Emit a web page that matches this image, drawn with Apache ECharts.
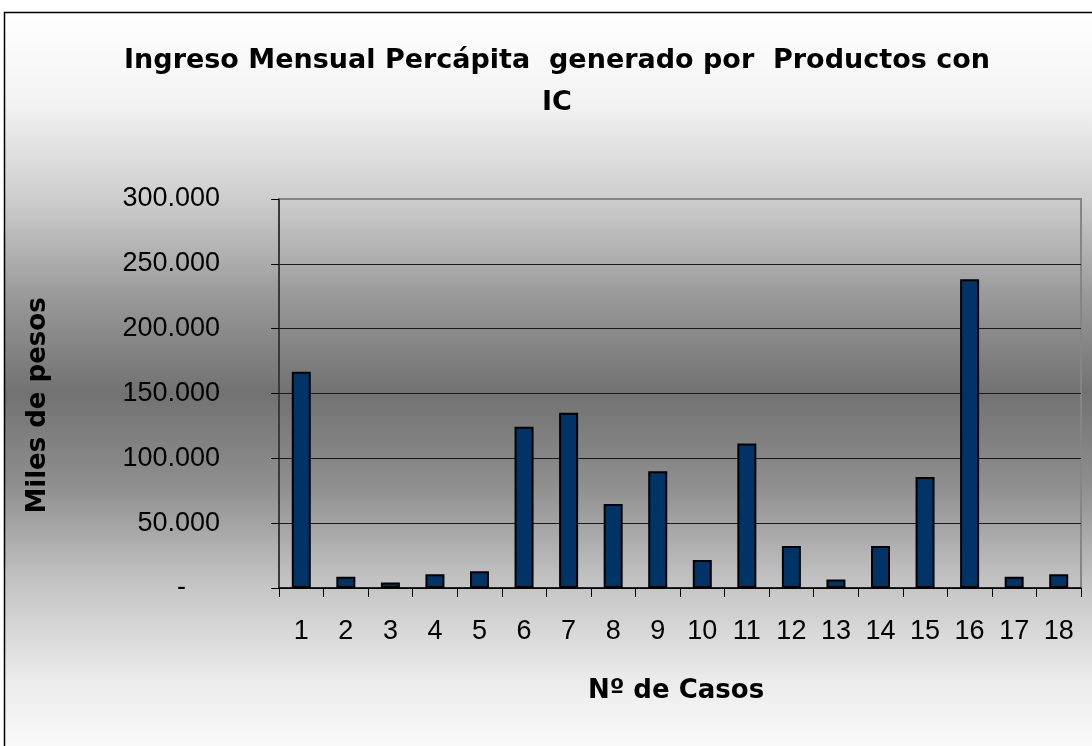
<!DOCTYPE html>
<html>
<head>
<meta charset="utf-8">
<title>Ingreso Mensual Percápita</title>
<script src="https://cdn.jsdelivr.net/npm/echarts@6/dist/echarts.min.js"></script>
<style>
  html, body { margin: 0; padding: 0; background: #fff; }
  #chart { width: 1092px; height: 746px; }
</style>
</head>
<body>
<div id="chart"></div>
<script>
// datos
var casos = ['1', '2', '3', '4', '5', '6', '7', '8', '9', '10', '11', '12', '13', '14', '15', '16', '17', '18'];
var ingresos = [166800, 8600, 4300, 10700, 13000, 124300, 135100, 64700, 90100, 21500, 111500, 32300, 6600, 32300, 85700, 238200, 8600, 10700];
var ticksY = [0, 50000, 100000, 150000, 200000, 250000, 300000];

var numFont = '"Liberation Sans", Arial, sans-serif';
var boldFont = '"DejaVu Sans", sans-serif';

function formatMiles(v) {
  if (v === 0) {
    return '{z|-}';
  }
  return String(v).replace(/\B(?=(\d{3})+(?!\d))/g, '.');
}

var chart = echarts.init(document.getElementById('chart'));

var option = {
  backgroundColor: '#ffffff',
  animation: false,
  graphic: [
    {
      // marco del grafico con degradado
      type: 'rect',
      z: -10,
      silent: true,
      shape: { x: 4.5, y: 12.5, width: 1100, height: 760 },
      style: {
        fill: new echarts.graphic.LinearGradient(0, 0, 0, 1, [
          { offset: 0, color: '#ffffff' },
          { offset: 0.12, color: '#f3f3f3' },
          { offset: 0.25, color: '#cccccc' },
          { offset: 0.38, color: '#979797' },
          { offset: 0.5, color: '#727272' },
          { offset: 0.62, color: '#8e8e8e' },
          { offset: 0.75, color: '#c4c4c4' },
          { offset: 0.88, color: '#ececec' },
          { offset: 1, color: '#ffffff' }
        ]),
        stroke: '#000000',
        lineWidth: 1.5
      }
    }
  ],
  title: {
    text: 'Ingreso Mensual Percápita  generado por  Productos con\nIC',
    left: 552,
    top: 35,
    textAlign: 'center',
    textStyle: {
      fontFamily: boldFont,
      fontWeight: 'bold',
      fontSize: 27,
      lineHeight: 42,
      color: '#000'
    }
  },
  grid: {
    left: 279,
    right: 11,
    top: 199,
    bottom: 158,
    show: true,
    backgroundColor: 'transparent',
    borderColor: '#858585',
    borderWidth: 2
  },
  xAxis: {
    type: 'category',
    data: casos,
    name: 'Nº de Casos',
    nameLocation: 'middle',
    nameGap: 90,
    nameTextStyle: {
      fontFamily: boldFont,
      fontWeight: 'bold',
      fontSize: 26,
      color: '#000',
      padding: [0, 8, 0, 0]
    },
    axisLine: { lineStyle: { color: '#000', width: 1.5 } },
    axisTick: { show: true, interval: 0, length: 9, lineStyle: { color: '#000' } },
    axisLabel: {
      interval: 0,
      margin: 30,
      fontFamily: numFont,
      fontSize: 27,
      color: '#000'
    }
  },
  yAxis: {
    type: 'value',
    min: 0,
    max: 300000,
    interval: 50000,
    name: 'Miles de pesos',
    nameLocation: 'middle',
    nameRotate: 90,
    nameGap: 228,
    nameTextStyle: {
      fontFamily: boldFont,
      fontWeight: 'bold',
      fontSize: 26,
      color: '#000',
      padding: [0, 24, 0, 0]
    },
    axisLine: { show: true, lineStyle: { color: '#222', width: 1.5 } },
    axisTick: { show: true, length: 8, lineStyle: { color: '#000' } },
    axisLabel: {
      margin: 59,
      fontFamily: numFont,
      fontSize: 27,
      color: '#000',
      formatter: formatMiles,
      rich: {
        z: { fontFamily: numFont, fontSize: 27, color: '#000', padding: [0, 34, 0, 0] }
      }
    },
    splitLine: {
      show: true,
      showMaxLine: false,
      lineStyle: { color: '#1a1a1a', width: 1 }
    }
  },
  series: [
    {
      name: 'Ingreso',
      type: 'bar',
      data: ingresos,
      barWidth: 19,
      itemStyle: {
        color: '#003366',
        borderColor: '#000000',
        borderWidth: 2
      }
    }
  ]
};

chart.setOption(option);
</script>
</body>
</html>
